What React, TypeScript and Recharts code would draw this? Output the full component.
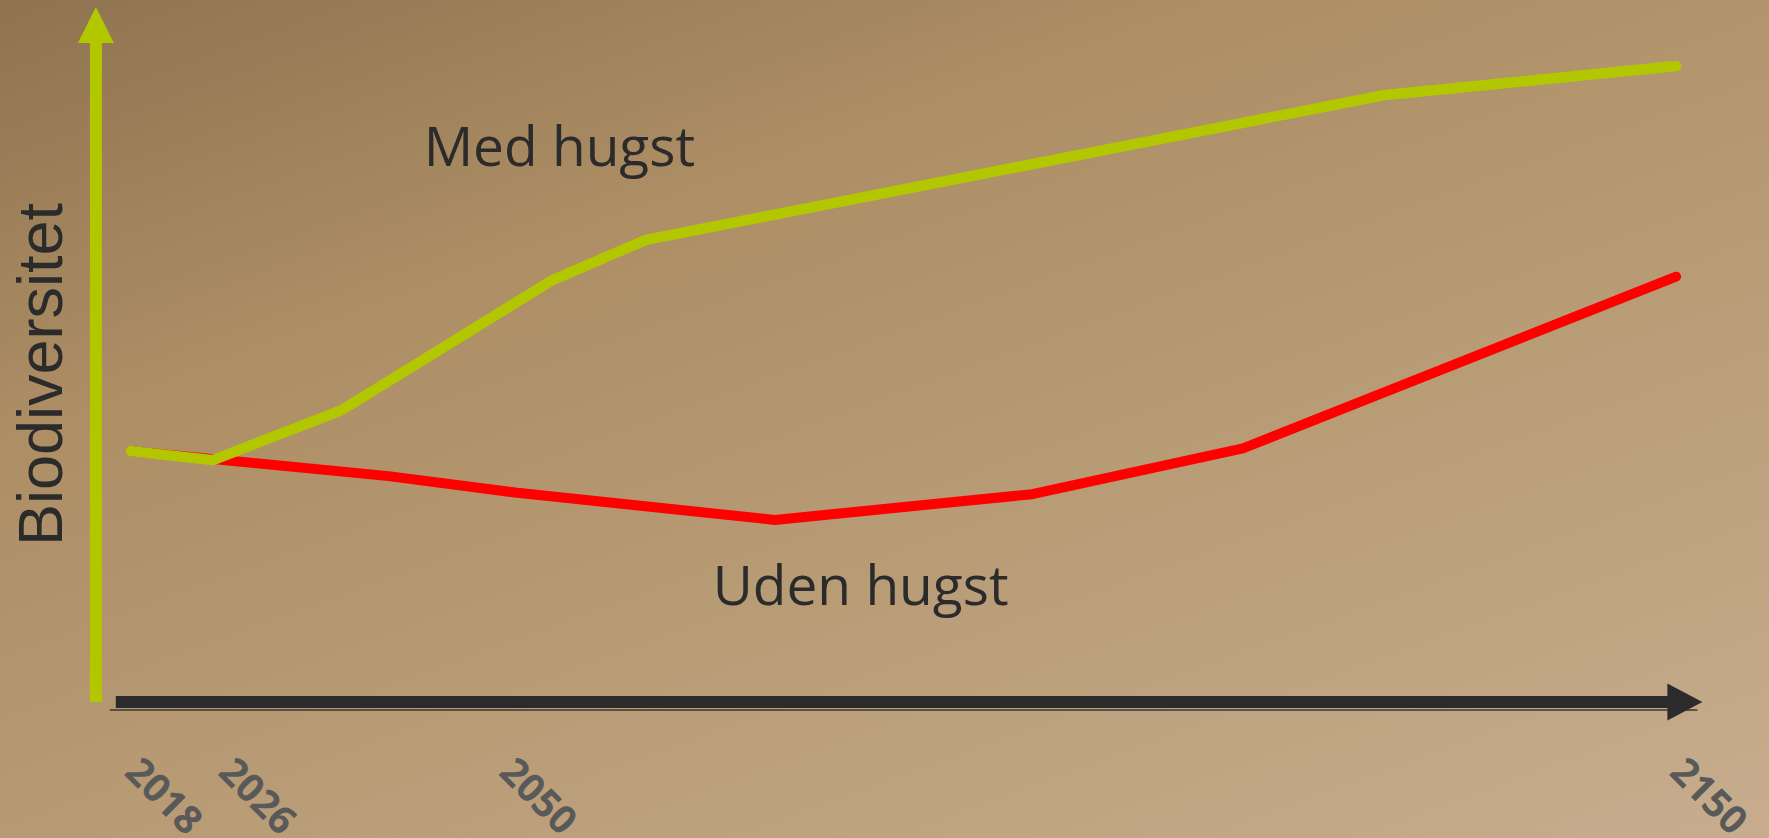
import React from "react";
import { Line, LineChart, ReferenceDot, ReferenceLine, XAxis, YAxis } from "recharts";

// "Med hugst" curve
const medYears = [2018, 2025, 2036, 2054, 2062, 2125, 2150];
const medValues = [36.1, 34.8, 42.0, 60.7, 66.5, 87.3, 91.5];

// "Uden hugst" curve
const udenYears = [2018, 2040, 2051, 2073, 2095, 2113, 2150];
const udenValues = [36.1, 32.5, 30.1, 26.2, 29.9, 36.5, 61.2];

const tickYears = [2018, 2026, 2050, 2150];

const annotationNames = ["Med hugst", "Uden hugst"];
const annotationYears = [2043, 2067.7];
const annotationValues = [77.1, 14.0];

const medData = medYears.map((year, i) => ({ year, value: medValues[i] }));
const udenData = udenYears.map((year, i) => ({ year, value: udenValues[i] }));

const W = 1769;
const H = 838;
const GREEN = "#b3c700";
const RED = "#ff0000";
const DARK = "#2b2b2b";

function YearTick({ x, y, payload }: any) {
  const tx = x - 8;
  const ty = y + 72;
  return (
    <text
      x={tx}
      y={ty}
      transform={`rotate(45 ${tx} ${ty})`}
      fill="#595959"
      fontFamily="'Open Sans', sans-serif"
      fontWeight={700}
      fontSize={39}
    >
      {payload.value}
    </text>
  );
}

function XArrow({ x1, y1, x2 }: any) {
  const head = 35;
  return (
    <g>
      <line x1={x1 - 6} y1={y1 + 8} x2={x2 - 5} y2={y1 + 8} stroke="#3a3631" strokeWidth={1.6} />
      <line x1={x1} y1={y1} x2={x2 - head + 2} y2={y1} stroke={DARK} strokeWidth={12} />
      <polygon points={`${x2 - head},${y1 - 18.5} ${x2},${y1} ${x2 - head},${y1 + 18.5}`} fill={DARK} />
    </g>
  );
}

function YArrow({ x1, y1, y2 }: any) {
  const head = 36;
  return (
    <g>
      <line x1={x1} y1={y1} x2={x1} y2={y2 + head - 2} stroke={GREEN} strokeWidth={12} />
      <polygon points={`${x1 - 18},${y2 + head} ${x1},${y2} ${x1 + 18},${y2 + head}`} fill={GREEN} />
    </g>
  );
}

function BioLabel({ viewBox }: any) {
  const tx = viewBox.x + 62;
  const ty = viewBox.y + viewBox.height / 2 + 20;
  return (
    <text
      x={tx}
      y={ty}
      transform={`rotate(-90 ${tx} ${ty})`}
      textAnchor="middle"
      fill={DARK}
      fontFamily="'Liberation Sans', Arial, sans-serif"
      fontSize={63}
    >
      Biodiversitet
    </text>
  );
}

export default function App() {
  return (
    <div
      style={{
        position: "absolute",
        left: 0,
        top: 0,
        width: W,
        height: H,
        background: "linear-gradient(160deg, #8f7350 0%, #ad8e65 30%, #b89c76 60%, #c7ad8e 100%)",
      }}
    >
      <LineChart width={W} height={H} margin={{ top: 7, right: 66.6, bottom: 0, left: 0 }}>
        <XAxis
          dataKey="year"
          type="number"
          domain={[2015, 2152.25]}
          ticks={tickYears}
          interval={0}
          allowDataOverflow
          height={136}
          axisLine={false}
          tickLine={false}
          tickSize={0}
          tickMargin={0}
          tick={<YearTick />}
        />
        <YAxis
          type="number"
          domain={[0, 100]}
          width={95.9}
          tick={false}
          axisLine={false}
          tickLine={false}
          label={(props: any) => <BioLabel {...props} />}
        />
        <ReferenceLine
          segment={[
            { x: 2016.7, y: 0 },
            { x: 2152.25, y: 0 },
          ]}
          ifOverflow="visible"
          shape={(p: any) => <XArrow {...p} />}
        />
        <ReferenceLine
          segment={[
            { x: 2015, y: 0 },
            { x: 2015, y: 100 },
          ]}
          ifOverflow="visible"
          shape={(p: any) => <YArrow {...p} />}
        />
        <Line
          data={udenData}
          dataKey="value"
          type="linear"
          stroke={RED}
          strokeWidth={10}
          strokeLinecap="round"
          strokeLinejoin="round"
          dot={false}
          activeDot={false}
          isAnimationActive={false}
        />
        <Line
          data={medData}
          dataKey="value"
          type="linear"
          stroke={GREEN}
          strokeWidth={10.5}
          strokeLinecap="round"
          strokeLinejoin="round"
          dot={false}
          activeDot={false}
          isAnimationActive={false}
        />
        {annotationNames.map((name, i) => (
          <ReferenceDot
            key={name}
            x={annotationYears[i]}
            y={annotationValues[i]}
            r={0}
            shape={(p: any) => (
              <text x={p.cx} y={p.cy} fill={DARK} fontFamily="'Open Sans', sans-serif" fontSize={55}>
                {name}
              </text>
            )}
          />
        ))}
      </LineChart>
    </div>
  );
}
